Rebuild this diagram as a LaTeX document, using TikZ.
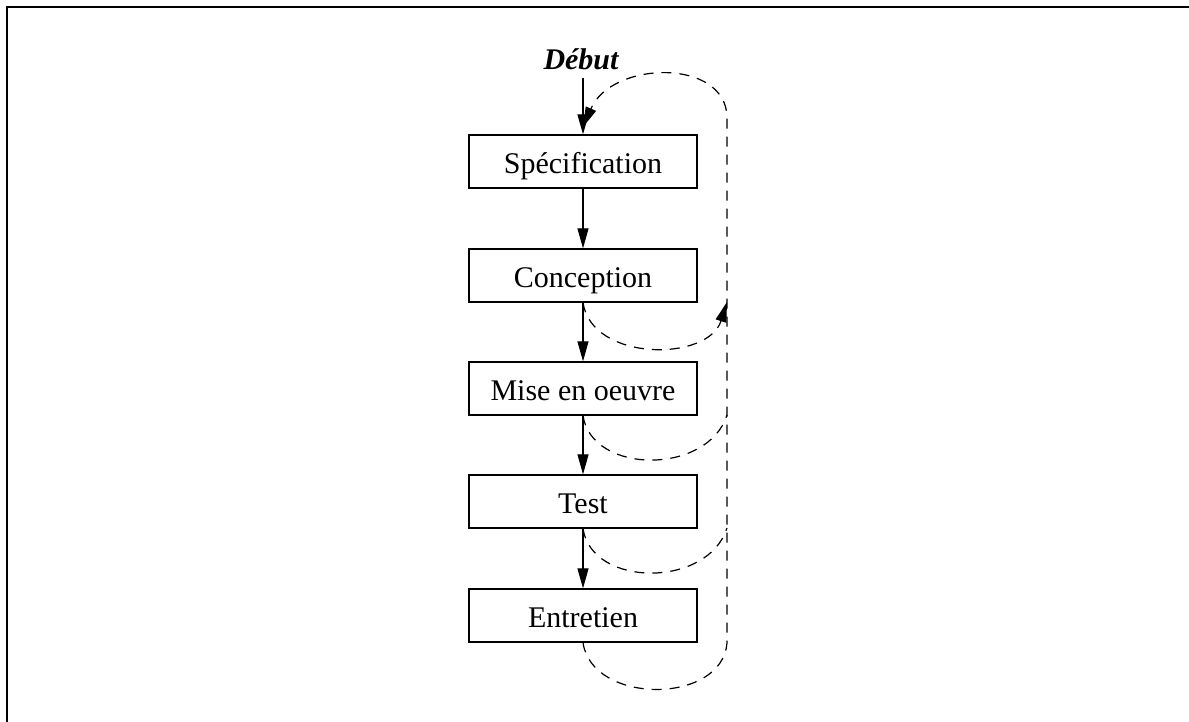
\documentclass[tikz,border=0pt]{standalone}
\usepackage{fontspec}
\setmainfont{Liberation Serif}
\usetikzlibrary{arrows.meta}
\begin{document}
\begin{tikzpicture}[x=0.5pt,y=-0.5pt,
  stage/.style={draw, line width=0.65pt, minimum width=114pt, minimum height=26.5pt,
                inner sep=0pt, text height=11.5pt, text depth=0pt,
                font=\fontsize{15}{17}\selectfont},
  flow/.style={line width=0.6pt, -{Triangle[length=10pt,width=5.5pt]}},
  back/.style={line width=0.6pt, dash pattern=on 5pt off 4pt},
  backtip/.style={back, -{Triangle[length=10pt,width=5.5pt]}}]
\useasboundingbox (0,0) rectangle (1189,722);
% frame edges
\draw[line width=1pt] (7,722) -- (7,7) -- (1189,7);

% start label and the five stages
\node[font=\fontsize{15}{17}\selectfont\bfseries\itshape, inner sep=0pt, outer sep=4pt] (debut) at (581,59) {Début};
\node[stage] (s1) at (583,161.5) {Spécification};
\node[stage] (s2) at (583,275.5) {Conception};
\node[stage] (s3) at (583,388.5) {Mise en oeuvre};
\node[stage] (s4) at (583,501.5) {Test};
\node[stage] (s5) at (583,615.5) {Entretien};

% forward flow
\draw[flow] (debut.south -| s1.north) -- (s1.north);
\draw[flow] (s1) -- (s2);
\draw[flow] (s2) -- (s3);
\draw[flow] (s3) -- (s4);
\draw[flow] (s4) -- (s5);

% return path
\coordinate (rb) at (727,643);
\coordinate (rt) at (727,118);
\coordinate (reentry) at (583,127);
\coordinate (j2) at (727,302);
\coordinate (j3) at (727,415);
\coordinate (j4) at (727,528);

\draw[backtip] (s5.south) .. controls (592,705) and (722,705) .. (rb) -- (rt)
  .. controls (727,58) and (612,60) .. (reentry);
\draw[backtip] (s2.south) .. controls (592,362) and (708,362) .. (j2);
\draw[back] (s3.south) .. controls (592,475) and (708,475) .. (j3);
\draw[back] (s4.south) .. controls (592,588) and (708,588) .. (j4);
\end{tikzpicture}
\end{document}
